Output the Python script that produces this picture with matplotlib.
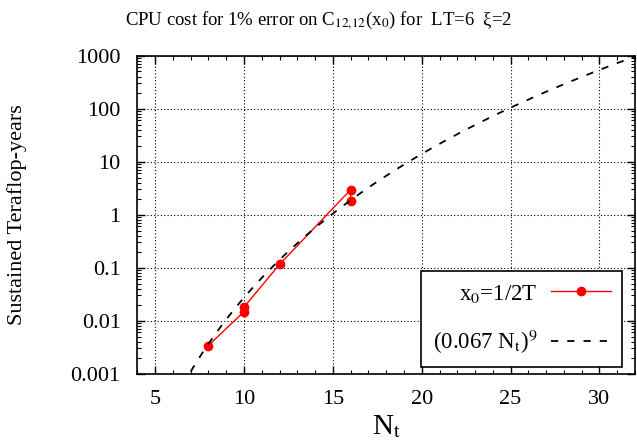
import matplotlib.pyplot as plt
import numpy as np

plt.rcParams['font.family'] = ['Liberation Serif', 'DejaVu Serif']
plt.rcParams['mathtext.fontset'] = 'stix'

# measured points (N_t, Teraflop-years)
nt = [8, 10, 10, 12, 16, 16]
cost = [0.0034, 0.0148, 0.018, 0.115, 2.95, 1.78]

# fit curve (0.067 N_t)^9
coef = 0.067
power = 9

fig = plt.figure(figsize=(6.37, 4.43), dpi=100)
ax = fig.add_axes([0.2156, 0.1564, 0.7813, 0.7183])

xx = np.linspace(4, 32, 400)
ax.plot(nt, cost, color='red', lw=1, marker='o', ms=6, label=r'x$_0$=1/2T')
ax.plot(xx, (coef * xx) ** power, color='black', lw=1.3, ls=(0, (4, 5)),
        label=r'(0.067 N$_\mathrm{t}$)$^9$')

ax.set_yscale('log')
ax.set_xlim(4, 32)
ax.set_ylim(0.001, 1000)
ax.set_xticks([5, 10, 15, 20, 25, 30])
ax.set_xticks(range(4, 33), minor=True)
ax.set_yticks([0.001, 0.01, 0.1, 1, 10, 100, 1000])
ax.set_yticklabels(['0.001', '0.01', '0.1', '1', '10', '100', '1000'])
ax.tick_params(which='both', direction='in', top=True, right=True, labelsize=16)
ax.tick_params(which='major', length=6, width=1)
ax.tick_params(which='minor', length=3, width=0.8)
ax.tick_params(axis='x', pad=12)
ax.tick_params(axis='y', pad=12)
ax.grid(True, which='major', ls=(0, (1, 2)), color='black', lw=0.8)
for s in ax.spines.values():
    s.set_linewidth(1.2)

ax.set_xlabel(r'N$_\mathrm{t}$', fontsize=21, va='center')
ax.xaxis.set_label_coords(0.5, -0.165)
ax.set_ylabel('Sustained Teraflop-years', fontsize=16, va='center')
ax.yaxis.set_label_coords(-0.242, 0.5)
fig.text(0.5, 0.953, r'CPU cost for 1% error on C$_{12{,}12}$(x$_0$) for  LT=6  ξ=2',
         fontsize=13.5, ha='center', va='center')

leg = ax.legend(loc='lower right', fontsize=16.5, markerfirst=False, fancybox=False,
                edgecolor='black', framealpha=1, handlelength=2.6, handletextpad=0.6,
                borderpad=0.5, labelspacing=1.0, borderaxespad=0,
                bbox_to_anchor=(0.974, 0.021))
leg.get_frame().set_linewidth(1.2)

plt.savefig('out.png')
